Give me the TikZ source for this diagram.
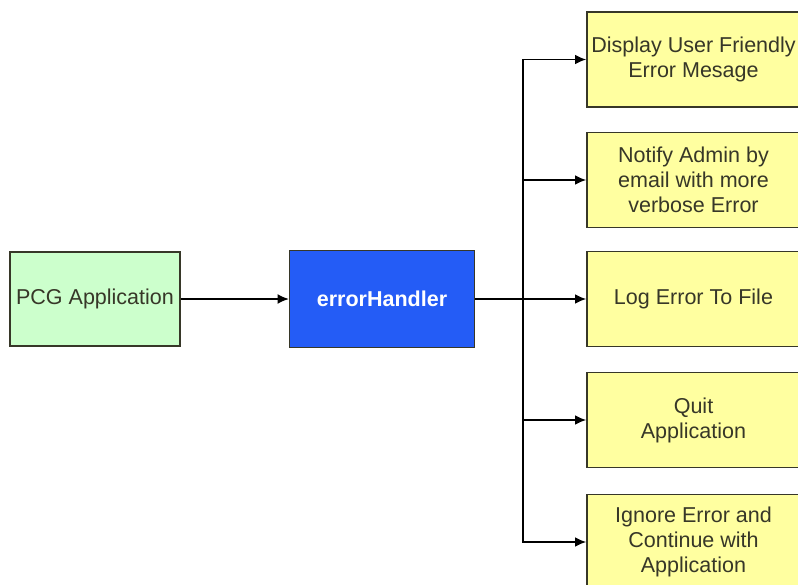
\documentclass[tikz,border=0pt]{standalone}
\usepackage{fontspec}
\setmainfont{Liberation Sans}
\usetikzlibrary{arrows.meta}

\definecolor{appgreen}{RGB}{204,255,204}
\definecolor{handblue}{RGB}{36,92,246}
\definecolor{actyellow}{RGB}{255,255,160}
\definecolor{boxline}{RGB}{55,55,40}

\begin{document}
\begin{tikzpicture}[>={Latex[length=8pt,width=7pt]}, x=0.025cm, y=-0.025cm,
    box/.style={draw=boxline, line width=1pt, inner sep=0pt, align=center,
        text=boxline, font=\fontsize{15.3}{17.8}\selectfont,
        minimum width=5.325cm, minimum height=2.375cm},
    wire/.style={line width=1.2pt, black}]
\useasboundingbox (0,0) rectangle (798,585);
\clip (0,0) rectangle (798,585);

\node[box, fill=appgreen, minimum width=4.25cm, minimum height=2.35cm] (app) at (95,299) {PCG Application};
\node[box, fill=handblue, text=white, minimum width=4.625cm, minimum height=2.425cm,
    font=\fontsize{15.3}{17.8}\selectfont\bfseries] (eh) at (382,299) {errorHandler};

% possible actions
\node[box, fill=actyellow] (show) at (693.5,59.5) {Display User Friendly\\Error Mesage};
\node[box, fill=actyellow] (mail) at (693.5,180) {Notify Admin by\\email with more\\verbose Error};
\node[box, fill=actyellow] (log) at (693.5,299) {Log Error To File};
\node[box, fill=actyellow] (quit) at (693.5,420) {Quit\\Application};
\node[box, fill=actyellow] (skip) at (693.5,542) {Ignore Error and\\Continue with\\Application};

\coordinate (split) at (523,299);
\draw[line width=0.9pt, ->] (app) -- (eh);
\draw[wire] (eh) -- (split);
\foreach \n in {show,mail,log,quit,skip}
    \draw[wire, ->] (split) |- (\n.west);
\end{tikzpicture}
\end{document}
